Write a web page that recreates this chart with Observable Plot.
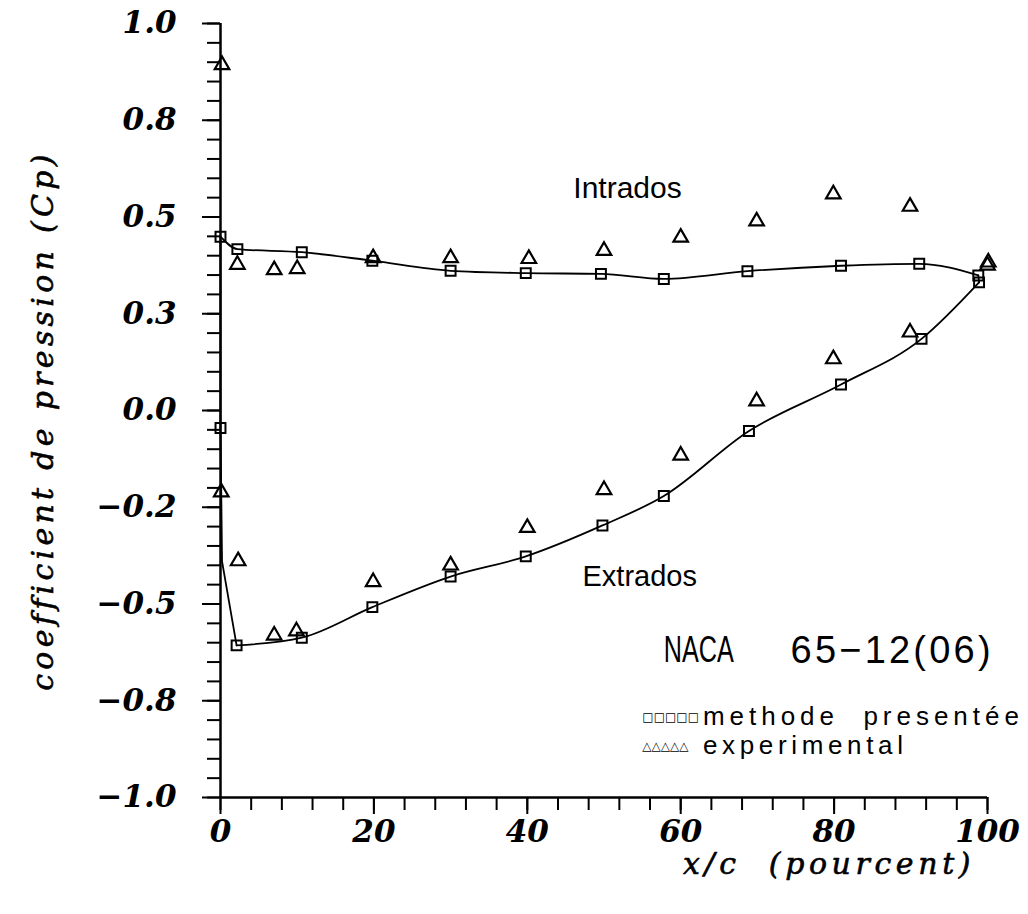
<!DOCTYPE html>
<html>
<head>
<meta charset="utf-8">
<script src="https://cdn.jsdelivr.net/npm/d3@7"></script>
<script src="https://cdn.jsdelivr.net/npm/@observablehq/plot@0.6"></script>
<style>
  body { margin: 0; background: #fff; }
  #chart svg { display: block; }
</style>
</head>
<body>
<div id="chart"></div>
<script>
// ---- tick values and labels ----
const yTicks = [1, 0.75, 0.5, 0.25, 0, -0.25, -0.5, -0.75, -1];
const yTickLabels = ["1.0", "0.8", "0.5", "0.3", "0.0", "\u22120.2", "\u22120.5", "\u22120.8", "\u22121.0"];
const xTicks = [0, 20, 40, 60, 80, 100];
const xTickLabels = ["0", "20", "40", "60", "80", "100"];

// ---- methode presentée (squares) ----
const intradosCalcX = [0, 2.2, 10.6, 19.8, 30, 39.8, 49.6, 57.8, 68.7, 80.9, 91.1, 98.8];
const intradosCalcY = [0.449, 0.417, 0.409, 0.387, 0.361, 0.355, 0.353, 0.340, 0.360, 0.374, 0.379, 0.349];
const extradosCalcX = [0, 2.1, 10.6, 19.8, 30, 39.8, 49.8, 57.8, 68.9, 80.9, 91.4, 98.9];
const extradosCalcY = [-0.045, -0.607, -0.587, -0.508, -0.429, -0.377, -0.297, -0.221, -0.053, 0.067, 0.185, 0.331];
// extra computed point on the curve near the leading edge (no marker)
const leadingEdgeCurveX = [0.2];
const leadingEdgeCurveY = [-0.39];

// ---- experimental (triangles) ----
const intradosExpX = [0.2, 2.2, 7.0, 10.0, 19.9, 30, 40.2, 50, 60, 69.9, 79.9, 89.9, 100.1];
const intradosExpY = [0.893, 0.377, 0.363, 0.366, 0.394, 0.394, 0.392, 0.413, 0.447, 0.489, 0.559, 0.527, 0.383];
const extradosExpX = [0.1, 2.3, 7.0, 9.9, 19.9, 30, 40, 50, 60, 69.9, 79.9, 89.9, 100];
const extradosExpY = [-0.211, -0.389, -0.581, -0.570, -0.443, -0.400, -0.303, -0.205, -0.116, 0.024, 0.133, 0.202, 0.375];

// ---- texts ----
const surfaceLabels = ["Intrados", "Extrados"];
const profileName = ["NACA", "65\u221212(06)"];
const legendSymbols = ["\u25A1\u25A1\u25A1\u25A1\u25A1", "\u25B3\u25B3\u25B3\u25B3\u25B3"];
const legendLabels = ["methode  presentée", "experimental"];
const yTitle = "coefficient de pression (Cp)";
const xTitle = "x/c  (pourcent)";

// ---- tables built from the arrays ----
const zip = (xs, ys) => xs.map((x, i) => ({x, y: ys[i]}));
const squares = [...zip(intradosCalcX, intradosCalcY), ...zip(extradosCalcX, extradosCalcY)];
const triangles = [...zip(intradosExpX, intradosExpY), ...zip(extradosExpX, extradosExpY)];
const upperLine = zip(intradosCalcX, intradosCalcY);
const lowerAll = zip(extradosCalcX, extradosCalcY);
const lowerLine = lowerAll.slice(1);
const leadingEdge = [upperLine[0], lowerAll[0], ...zip(leadingEdgeCurveX, leadingEdgeCurveY), lowerLine[0]];
const trailingEdge = [upperLine[upperLine.length - 1], lowerLine[lowerLine.length - 1]];

const yLabelMap = new Map(yTicks.map((v, i) => [v, yTickLabels[i]]));
const xLabelMap = new Map(xTicks.map((v, i) => [v, xTickLabels[i]]));
const yMinor = d3.range(-20, 21).map(i => i / 20);
const xMinor = d3.range(0, 26).map(i => i * 4);

const tickFont = {fontSize: 31, fontFamily: "DejaVu Serif", fontStyle: "italic", fontWeight: "bold"};
const titleFont = {fontSize: 30, fontFamily: "DejaVu Serif", fontStyle: "italic", fill: "black", stroke: "black", strokeWidth: 0.6};
const sans = "Liberation Sans";

const chart = Plot.plot({
  width: 1028,
  height: 914,
  marginLeft: 220,
  marginRight: 41,
  marginTop: 23,
  marginBottom: 117,
  x: {domain: [0, 100]},
  y: {domain: [-1, 1]},
  style: {background: "white", color: "black", overflow: "visible"},
  marks: [
    // minor ticks
    Plot.axisY({ticks: yMinor, tickSize: 13, tickFormat: () => "", strokeWidth: 2, label: null}),
    Plot.axisX({ticks: xMinor, tickSize: 13, tickFormat: () => "", strokeWidth: 2, label: null}),
    // major ticks with labels
    Plot.axisY({ticks: yTicks, tickSize: 18, tickPadding: 26, tickFormat: d => yLabelMap.get(d),
      strokeWidth: 2, label: null, ...tickFont}),
    Plot.axisX({ticks: xTicks, tickSize: 17, tickPadding: 5, tickFormat: d => xLabelMap.get(d),
      strokeWidth: 2, label: null, ...tickFont}),
    // axis lines
    Plot.ruleX([0], {strokeWidth: 2.5}),
    Plot.ruleY([-1], {strokeWidth: 2.5}),
    // computed curve and markers
    Plot.line(upperLine, {x: "x", y: "y", curve: "monotone-x", strokeWidth: 1.8}),
    Plot.line(lowerLine, {x: "x", y: "y", curve: "monotone-x", strokeWidth: 1.8}),
    Plot.line(leadingEdge, {x: "x", y: "y", strokeWidth: 1.8}),
    Plot.line(trailingEdge, {x: "x", y: "y", strokeWidth: 1.8}),
    Plot.dot(squares, {x: "x", y: "y", symbol: "square", r: 5.6, stroke: "black", strokeWidth: 2, fill: "none"}),
    Plot.dot(triangles, {x: "x", y: "y", symbol: "triangle", r: 5.4, stroke: "black", strokeWidth: 2.2, fill: "none"}),
    // annotations
    Plot.text([surfaceLabels[0]], {x: 46, y: 0.575, text: d => d, textAnchor: "start", fontSize: 30, fontFamily: sans}),
    Plot.text([surfaceLabels[1]], {x: 47.2, y: -0.429, text: d => d, textAnchor: "start", fontSize: 29, fontFamily: sans}),
    Plot.text([profileName[0]], {x: 57.8, y: -0.62, text: d => d, textAnchor: "start", fontSize: 36, fontFamily: sans}),
    Plot.text([profileName[1]], {x: 100.4, y: -0.62, text: d => d, textAnchor: "end", fontSize: 38, fontFamily: sans}),
    // legend
    Plot.text([legendSymbols[0]], {x: 55.0, y: -0.792, text: d => d, textAnchor: "start", fontSize: 12, fontFamily: "DejaVu Sans"}),
    Plot.text([legendSymbols[1]], {x: 55.0, y: -0.867, text: d => d, textAnchor: "start", fontSize: 12, fontFamily: "DejaVu Sans"}),
    Plot.text([legendLabels[0]], {x: 62.9, y: -0.792, text: d => d, textAnchor: "start", fontSize: 26, fontFamily: sans}),
    Plot.text([legendLabels[1]], {x: 62.9, y: -0.867, text: d => d, textAnchor: "start", fontSize: 26, fontFamily: sans}),
    // axis titles
    Plot.text([yTitle], {frameAnchor: "left", dx: -177, dy: 10, rotate: -90, text: d => d,
      textAnchor: "middle", lineAnchor: "middle", ...titleFont}),
    Plot.text([xTitle], {frameAnchor: "bottom", dx: 225, dy: 67, text: d => d,
      textAnchor: "middle", lineAnchor: "middle", ...titleFont})
  ]
});

const sel = d3.select(chart);
const byText = t => sel.selectAll("text").filter(function() { return this.textContent === t; });
byText(yTitle).style("letter-spacing", "4.3px").style("white-space", "pre");
byText(xTitle).style("letter-spacing", "4.6px").style("white-space", "pre");
byText(legendLabels[0]).style("white-space", "pre").attr("textLength", 316);
byText(legendLabels[1]).attr("textLength", 200);
byText(profileName[0]).attr("textLength", 70).attr("lengthAdjust", "spacingAndGlyphs");
byText(profileName[1]).attr("textLength", 200);

document.getElementById("chart").appendChild(chart);
</script>
</body>
</html>
